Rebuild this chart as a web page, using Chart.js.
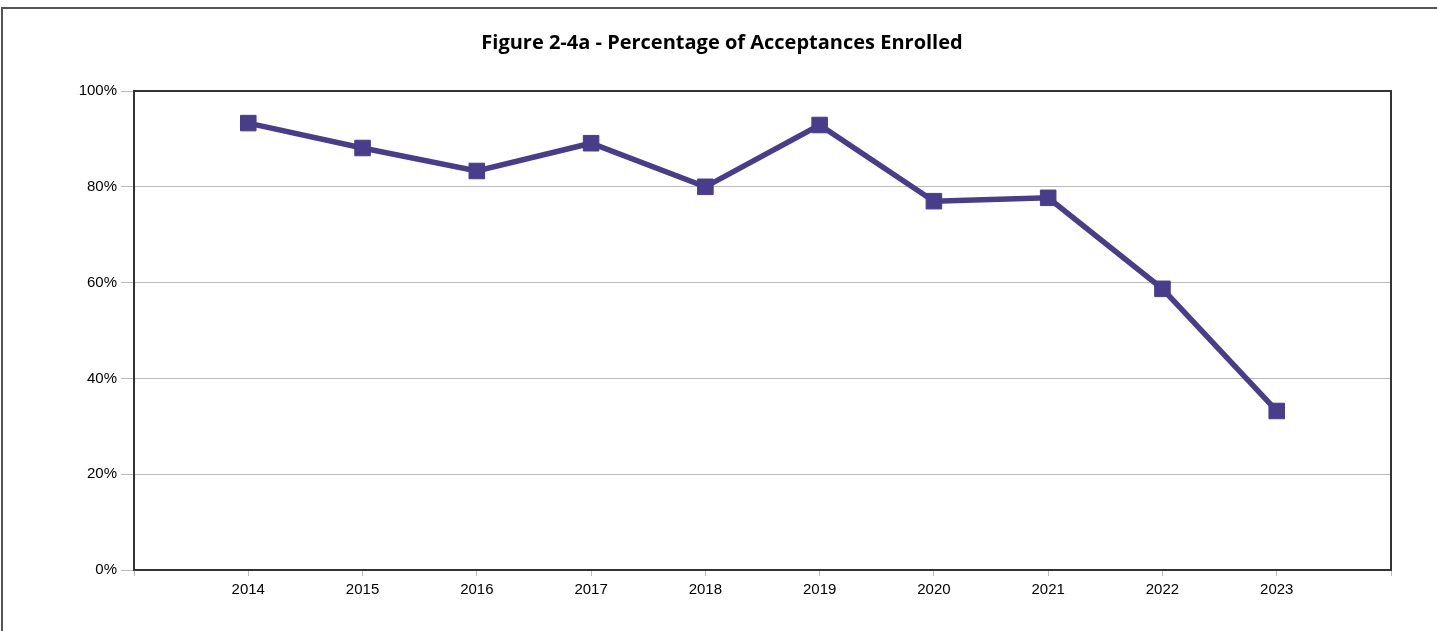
<!DOCTYPE html>
<html>
<head>
<meta charset="utf-8">
<script src="https://cdn.jsdelivr.net/npm/chart.js@4/dist/chart.umd.min.js"></script>
<style>
  html, body { margin: 0; padding: 0; background: #fff; overflow: hidden; }
  #frame { position: absolute; left: 1px; top: 7px; width: 1500px; height: 700px; border: 2px solid #555; }
  #wrap { position: absolute; left: 0; top: 0; width: 1437px; height: 631px; }
</style>
</head>
<body>
<div id="frame"></div>
<div id="wrap"><canvas id="chart"></canvas></div>
<script>
const chartTitle = 'Figure 2-4a - Percentage of Acceptances Enrolled';
// years shown on the x axis (empty slots at both ends, as in the original)
const years = ['', '2014', '2015', '2016', '2017', '2018', '2019', '2020', '2021', '2022', '2023', ''];
// percentage of acceptances enrolled
const enrolledPct = [null, 93.3, 88.1, 83.3, 89.1, 80.0, 92.9, 77.0, 77.7, 58.7, 33.2, null];

// frame round the plot area + title centred on the page
const plotExtras = {
  id: 'plotExtras',
  afterDraw(chart) {
    const a = chart.chartArea, ctx = chart.ctx;
    ctx.save();
    ctx.strokeStyle = '#333';
    ctx.lineWidth = 2;
    ctx.strokeRect(a.left, a.top, a.right - a.left, a.bottom - a.top);
    ctx.fillStyle = '#000';
    ctx.font = 'bold 20px "Open Sans", "Noto Sans", sans-serif';
    ctx.textAlign = 'center';
    ctx.textBaseline = 'middle';
    ctx.fillText(chartTitle, 722, 43);
    ctx.restore();
  }
};

new Chart(document.getElementById('chart'), {
  type: 'line',
  data: {
    labels: years,
    datasets: [{
      data: enrolledPct,
      borderColor: '#483D8B',
      backgroundColor: '#483D8B',
      borderWidth: 5.5,
      pointStyle: 'rect',
      pointRadius: 11,
      pointBorderWidth: 1,
      pointHoverRadius: 11,
      tension: 0,
      clip: false
    }]
  },
  options: {
    responsive: true,
    maintainAspectRatio: false,
    animation: false,
    layout: { padding: { top: 91, right: 46, bottom: 0, left: 0 } },
    plugins: {
      legend: { display: false },
      tooltip: { enabled: false },
      title: { display: false }
    },
    scales: {
      x: {
        offset: false,
        grid: { drawOnChartArea: false, drawTicks: true, tickLength: 6, color: '#bbb' },
        border: { color: '#000', width: 2 },
        ticks: {
          color: '#000',
          font: { family: '"Liberation Sans", Arial, sans-serif', size: 15 },
          padding: 5,
          maxRotation: 0,
          autoSkip: false
        },
        afterFit(scale) { scale.height = 61; }
      },
      y: {
        min: 0,
        max: 100,
        grid: { color: '#bbb', tickLength: 13, lineWidth: 1 },
        border: { color: '#444', width: 2 },
        ticks: {
          stepSize: 20,
          color: '#000',
          font: { family: '"Liberation Sans", Arial, sans-serif', size: 15 },
          padding: 4,
          callback: v => v + '%'
        },
        afterFit(scale) { scale.width = 134; }
      }
    }
  },
  plugins: [plotExtras]
});
</script>
</body>
</html>
